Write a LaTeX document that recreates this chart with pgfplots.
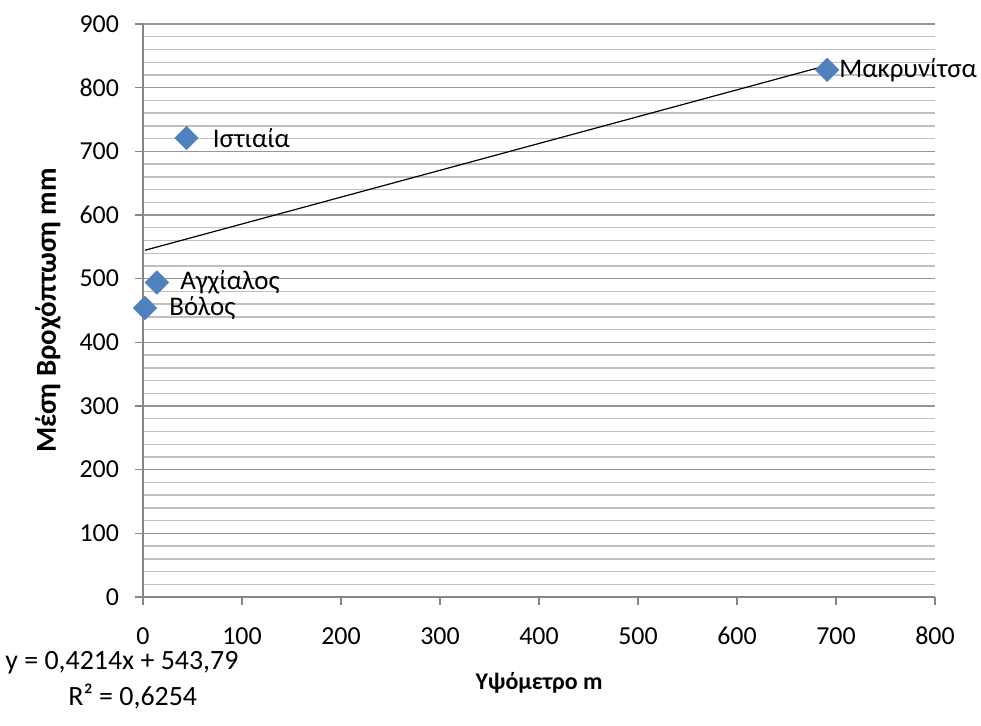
\documentclass[border=0pt]{standalone}
\usepackage{fontspec}
\setmainfont{Carlito}
\usepackage{pgfplots}
\pgfplotsset{compat=1.18}

\definecolor{markblue}{HTML}{4F81BD}
\definecolor{majgrid}{RGB}{150,150,150}
\definecolor{mingrid}{RGB}{192,192,192}
\definecolor{axisgray}{RGB}{134,134,134}

\pgfplotstableread{
x    y
2    454
14   494
44   721
691  828
}\stations

\begin{document}
\begin{tikzpicture}
\useasboundingbox (-71.5bp,-64.5bp) rectangle (419bp,298.5bp);
\begin{axis}[
  scale only axis,
  width=396bp, height=286.5bp,
  xmin=0, xmax=800, ymin=0, ymax=900,
  clip=false,
  xtick={0,100,...,800}, ytick={0,100,...,900},
  minor y tick num=4,
  axis x line*=bottom, axis y line*=left,
  axis line style={axisgray, line width=0.8bp},
  tick align=outside, tick pos=left,
  major tick length=4bp, minor tick length=0pt,
  tick style={axisgray, line width=0.8bp},
  ymajorgrids, yminorgrids,
  major grid style={majgrid, line width=0.8bp},
  minor grid style={mingrid, line width=0.7bp},
  /pgf/number format/assume math mode=true,
  ticklabel style={font=\fontsize{13}{15}\selectfont, text=black},
  xticklabel style={anchor=center, yshift=-15.5bp},
  yticklabel style={anchor=east, xshift=-4.5bp},
  xlabel={\bfseries Υψόμετρο m},
  xlabel style={at={(axis description cs:0.5,-0.150)}, anchor=center,
    font=\fontsize{12}{14}\selectfont},
  ylabel={\bfseries Μέση Βροχόπτωση mm},
  ylabel style={at={(axis description cs:-0.12,0.5)}, anchor=center,
    font=\fontsize{14.5}{17}\selectfont},
]
\addplot[black, line width=0.6bp] coordinates {(2,544.63) (691,834.97)};
\addplot[only marks, mark=square*, mark size=4.1bp,
  mark options={rotate=45, fill=markblue, draw=markblue}] table[x=x, y=y] {\stations};

\node[anchor=west, inner sep=0, xshift=13bp, font=\fontsize{13.5}{16}\selectfont]
  at (axis cs:44,721) {Ιστιαία};
\node[anchor=west, inner sep=0, xshift=11.5bp, font=\fontsize{13.5}{16}\selectfont]
  at (axis cs:14,494) {Αγχίαλος};
\node[anchor=west, inner sep=0, xshift=12bp, font=\fontsize{13.5}{16}\selectfont]
  at (axis cs:2,454) {Βόλος};
\node[anchor=west, inner sep=0, xshift=6bp, font=\fontsize{13.5}{16}\selectfont]
  at (axis cs:691,828) {Μακρυνίτσα};
\end{axis}
\node[anchor=west, inner sep=0, font=\fontsize{14}{16}\selectfont] at (-69bp,-33bp) {y = 0,4214x + 543,79};
\node[anchor=west, inner sep=0, font=\fontsize{14}{16}\selectfont] at (-37.5bp,-50bp) {R² = 0,6254};
\end{tikzpicture}
\end{document}
